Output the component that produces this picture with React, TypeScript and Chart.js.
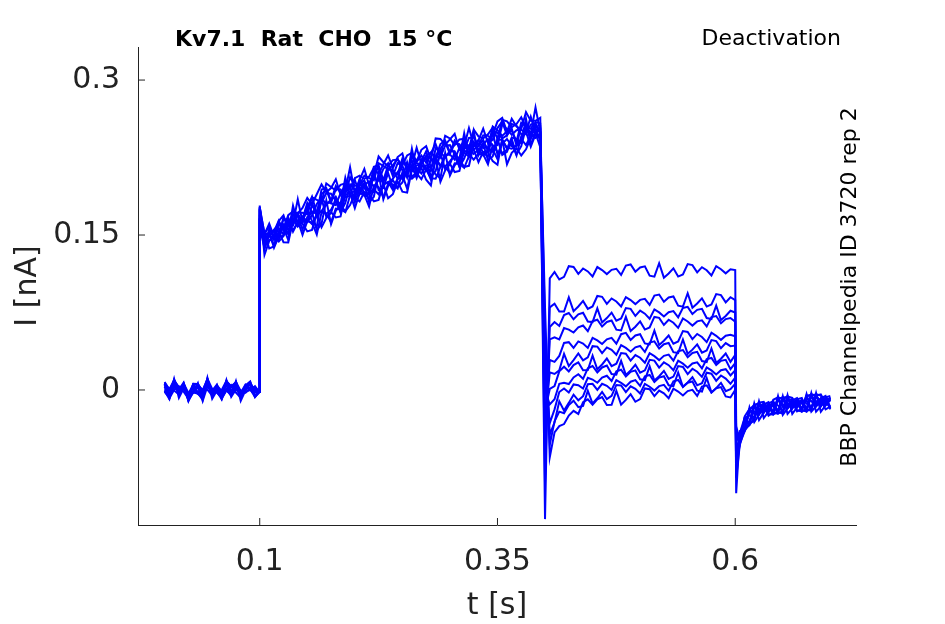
import React, { useEffect, useRef } from "react";
import { Chart, registerables } from "chart.js";
Chart.register(...registerables);

const STEP = 0.005;
const baseline = [0.003,-0.004,0.005,-0.002,0.004,-0.006,0.002,0.001,-0.005,0.006,-0.003,0.002,-0.004,0.004,-0.001,0.003,-0.005,0.002,0.005,-0.002];
const activation = [0.168,0.142,0.150,0.147,0.155,0.158,0.156,0.163,0.166,0.164,0.171,0.174,0.170,0.178,0.181,0.179,0.186,0.184,0.190,0.193,0.189,0.196,0.199,0.195,0.202,0.205,0.201,0.208,0.206,0.211,0.213,0.209,0.216,0.214,0.219,0.221,0.217,0.224,0.222,0.227,0.226,0.230,0.228,0.233,0.231,0.236,0.234,0.238,0.236,0.241,0.239,0.244,0.241,0.246,0.243,0.248,0.251,0.247,0.253,0.250];
const actOffset = [0.010,-0.008,0.004,-0.012,0.007,-0.003,0.012,-0.006,0.001,-0.010,0.005,-0.001];
const deactSpike = [-0.125,-0.09,-0.07,-0.05,-0.04,-0.03,-0.02,0.0,0.02,0.04,0.06,0.08];
const deactLevels = [0.116,0.087,0.075,0.066,0.052,0.043,0.034,0.026,0.019,0.012,0.006,0.0];
const deactScale = [0.005,0.01,0.015,0.02,0.025,0.03,0.035,0.04,0.045,0.05,0.055,0.06];
const deactShape = [-1,-0.75,-0.6,-0.5,-0.43,-0.37,-0.32,-0.28,-0.25,-0.22,-0.2,-0.18,-0.16,-0.14,-0.13,-0.12,-0.11,-0.1,-0.09,-0.08,-0.075,-0.07,-0.065,-0.06,-0.055,-0.05,-0.046,-0.042,-0.038,-0.035,-0.032,-0.03,-0.028,-0.026,-0.024,-0.022,-0.02,-0.02,-0.02];
const tailSpike = [-0.035,-0.045,-0.06,-0.07,-0.08,-0.1,-0.05,-0.065,-0.04,-0.085,-0.055,-0.075];
const tail = [-0.045,-0.032,-0.026,-0.022,-0.02,-0.018,-0.017,-0.016,-0.015,-0.015,-0.014,-0.014,-0.013,-0.013,-0.013,-0.012,-0.012,-0.012,-0.011,-0.011];
const jitter = [0.004,-0.003,0.006,-0.005,0.001,0.005,-0.006,0.002,-0.002,0.007,-0.004,0.003,-0.007,0.005,0.0,-0.003,0.006,-0.005,0.002,-0.001,0.004,-0.006,0.003,0.001,-0.004];
const xTicks = [0.1, 0.35, 0.6];
const yTicks = [0, 0.15, 0.3];

function sweep(k: number) {
  const pts: { x: number; y: number }[] = [];
  const j = (i: number) => jitter[(i * 3 + k * 7) % jitter.length];
  baseline.forEach((v, i) => pts.push({ x: i * STEP, y: v + j(i) * 0.8 }));
  pts.push({ x: 0.0995, y: baseline[baseline.length - 1] });
  activation.forEach((v, i) => pts.push({ x: 0.1 + i * STEP, y: v + actOffset[k] * Math.min(1, i / 10) + j(i + 20) * 1.5 }));
  pts.push({ x: 0.4, y: deactSpike[k] });
  deactShape.forEach((s, i) => pts.push({ x: 0.405 + i * STEP, y: deactLevels[k] + s * deactScale[k] + j(i + 80) }));
  pts.push({ x: 0.6, y: deactLevels[k] });
  pts.push({ x: 0.601, y: tailSpike[k] });
  tail.forEach((v, i) => pts.push({ x: 0.605 + i * STEP, y: v + j(i + 130) * 1.3 }));
  return pts;
}

export default function App() {
  const ref = useRef<HTMLCanvasElement>(null);
  useEffect(() => {
    document.body.style.margin = "0";
    const textPlugin = {
      id: "txt",
      afterDraw(c: any) {
        const ctx = c.ctx;
        ctx.save();
        ctx.fillStyle = "#000";
        ctx.font = "bold 22px 'DejaVu Sans'";
        ctx.textBaseline = "middle";
        ctx.textAlign = "left";
        ctx.fillText("Kv7.1  Rat  CHO  15 °C", 175, 40);
        ctx.font = "22px 'DejaVu Sans'";
        ctx.textAlign = "right";
        ctx.fillText("Deactivation", 841, 39);
        ctx.translate(850, 287);
        ctx.rotate(-Math.PI / 2);
        ctx.textAlign = "center";
        ctx.fillText("BBP Channelpedia ID 3720 rep 2", 0, 0);
        ctx.restore();
        const { x, y } = c.scales;
        ctx.save();
        ctx.strokeStyle = "#222";
        ctx.lineWidth = 1;
        xTicks.forEach((v) => { const px = x.getPixelForValue(v); ctx.beginPath(); ctx.moveTo(px, y.bottom); ctx.lineTo(px, y.bottom - 7); ctx.stroke(); });
        yTicks.forEach((v) => { const py = y.getPixelForValue(v); ctx.beginPath(); ctx.moveTo(x.left, py); ctx.lineTo(x.left + 7, py); ctx.stroke(); });
        ctx.restore();
      },
    };
    const font = { size: 30, family: "DejaVu Sans" };
    const chart = new Chart(ref.current!, {
      type: "line",
      data: {
        datasets: deactLevels.map((_, k) => ({
          data: sweep(k),
          borderColor: "#0000ff",
          borderWidth: 2,
          pointRadius: 0,
          tension: 0,
        })),
      },
      options: {
        animation: false,
        responsive: false,
        layout: { padding: { left: 0, right: 89, top: 47, bottom: 0 } },
        plugins: { legend: { display: false }, tooltip: { enabled: false } },
        scales: {
          x: {
            type: "linear", min: -0.028, max: 0.727,
            afterBuildTicks: (s: any) => { s.ticks = xTicks.map((v) => ({ value: v })); },
            afterFit: (s: any) => { s.height = 99; },
            grid: { display: false },
            border: { display: true, color: "#222" },
            ticks: { font, color: "#222", padding: 11, callback: (v: any) => String(v) },
            title: { display: true, text: "t [s]", font, color: "#222", padding: 0 },
          },
          y: {
            min: -0.1307, max: 0.332,
            afterBuildTicks: (s: any) => { s.ticks = yTicks.map((v) => ({ value: v })); },
            afterFit: (s: any) => { s.width = 138; },
            grid: { display: false },
            border: { display: true, color: "#222" },
            ticks: { font, color: "#222", padding: 10, callback: (v: any) => String(v) },
            title: { display: true, text: "I [nA]", font, color: "#222", padding: { top: 10, bottom: 0 } },
          },
        },
      },
      plugins: [textPlugin],
    });
    return () => chart.destroy();
  }, []);
  return (
    <div style={{ position: "fixed", left: 0, top: 0, width: 945, height: 624, background: "#fff" }}>
      <canvas ref={ref} width={945} height={624} />
    </div>
  );
}
